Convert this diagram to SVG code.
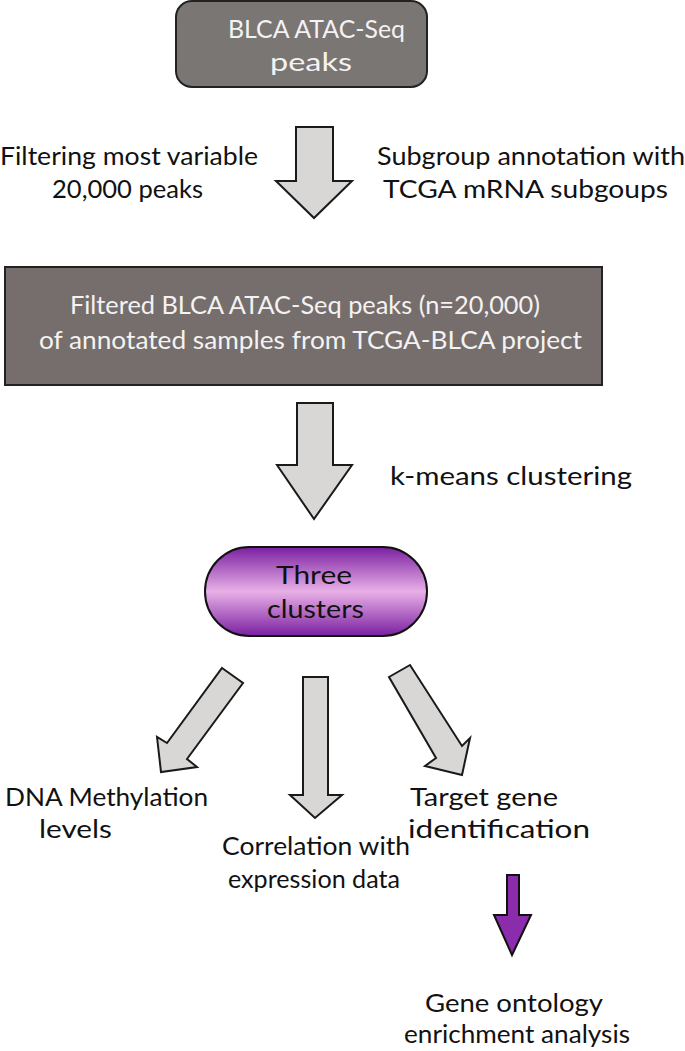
<svg xmlns="http://www.w3.org/2000/svg" width="685" height="1051" viewBox="0 0 685 1051">
<defs>
<linearGradient id="pill" x1="0" y1="0" x2="0" y2="1">
<stop offset="0" stop-color="#7b1fa2"/>
<stop offset="0.5" stop-color="#e8b0e6"/>
<stop offset="1" stop-color="#7b1fa2"/>
</linearGradient>
<style>
.t{font-family:Lato,"Open Sans","Liberation Sans",sans-serif;font-size:25px;fill:#111;}
.w{fill:#f4f2f2;}
.arr{fill:#d9d6d6;stroke:#1a1a1a;stroke-width:2;stroke-linejoin:miter;}
</style>
</defs>
<rect width="685" height="1051" fill="#fff"/>
<g id="node-peaks">
<rect x="176" y="1" width="251" height="86" rx="16" fill="#7a7674" stroke="#222" stroke-width="2"/>
<text class="t w" x="228" y="38" textLength="177" lengthAdjust="spacingAndGlyphs" font-size="27">BLCA ATAC-Seq</text>
<text class="t w" x="270" y="71" textLength="82" lengthAdjust="spacingAndGlyphs" font-size="27">peaks</text>
</g>
<g id="label-filter">
<text class="t" x="0" y="165" textLength="258" lengthAdjust="spacingAndGlyphs">Filtering most variable</text>
<text class="t" x="52" y="198" textLength="151" lengthAdjust="spacingAndGlyphs">20,000 peaks</text>
</g>
<g id="label-subgroup">
<text class="t" x="377" y="165" textLength="308" lengthAdjust="spacingAndGlyphs">Subgroup annotation with</text>
<text class="t" x="383" y="198" textLength="285" lengthAdjust="spacingAndGlyphs">TCGA mRNA subgoups</text>
</g>
<g id="node-filtered">
<rect x="5" y="267" width="597" height="118" fill="#756e6c" stroke="#222" stroke-width="2"/>
<text class="t w" x="70" y="314" textLength="470" lengthAdjust="spacingAndGlyphs">Filtered BLCA ATAC-Seq peaks (n=20,000)</text>
<text class="t w" x="39" y="349" textLength="543" lengthAdjust="spacingAndGlyphs">of annotated samples from TCGA-BLCA project</text>
</g>
<g id="label-kmeans">
<text class="t" x="390" y="485" textLength="242" lengthAdjust="spacingAndGlyphs">k-means clustering</text>
</g>
<g id="node-clusters">
<rect x="205" y="547" width="222" height="89" rx="44.5" fill="url(#pill)" stroke="#111" stroke-width="2"/>
<text class="t" x="276" y="584" textLength="76" lengthAdjust="spacingAndGlyphs" font-size="28">Three</text>
<text class="t" x="267" y="618" textLength="97" lengthAdjust="spacingAndGlyphs" font-size="28">clusters</text>
</g>
<g id="node-dna">
<text class="t" x="5" y="806" textLength="203" lengthAdjust="spacingAndGlyphs">DNA Methylation</text>
<text class="t" x="39" y="838" textLength="73" lengthAdjust="spacingAndGlyphs">levels</text>
</g>
<g id="node-correlation">
<text class="t" x="222" y="855" textLength="188" lengthAdjust="spacingAndGlyphs">Correlation with</text>
<text class="t" x="228" y="888" textLength="172" lengthAdjust="spacingAndGlyphs">expression data</text>
</g>
<g id="node-target">
<text class="t" x="410" y="806" textLength="148" lengthAdjust="spacingAndGlyphs">Target gene</text>
<text class="t" x="408" y="838" textLength="182" lengthAdjust="spacingAndGlyphs">identification</text>
</g>
<g id="node-go">
<text class="t" x="425" y="1012" textLength="178" lengthAdjust="spacingAndGlyphs">Gene ontology</text>
<text class="t" x="404" y="1043" textLength="226" lengthAdjust="spacingAndGlyphs">enrichment analysis</text>
</g>
<g id="connectors">
<polygon class="arr" points="296,127 333,127 333,181 352,181 314,218 276,181 296,181"/>
<polygon class="arr" points="297,403 333,403 333,465 352,465 314,519 277,465 297,465"/>
<polygon class="arr" points="222,668 243,683 187,759 197,767 161,772 157,737 167,743"/>
<polygon class="arr" points="303,677 328,677 328,795 342,795 315,818 290,795 303,795"/>
<polygon class="arr" points="410,665 389,677 436,758 425,766 462,775 470,738 462,746"/>
<polygon points="507,875 519,875 519,915 531,915 512,955 494,915 507,915" fill="#8a2cab" stroke="#111" stroke-width="2"/>
</g>
</svg>
